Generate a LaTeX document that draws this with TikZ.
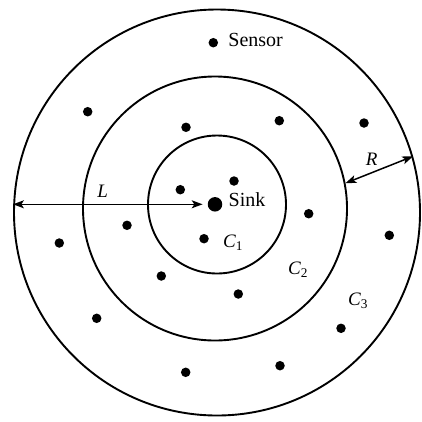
\documentclass[tikz,border=0pt]{standalone}
\usepackage{fontspec}
\setmainfont{Liberation Serif}
\usetikzlibrary{arrows.meta, positioning}
\tikzset{
  ring/.style={draw, circle, line width=1.9pt, inner sep=0pt},
  sensordot/.style={fill, circle, inner sep=0pt, minimum size=9.5pt},
  sinkdot/.style={fill, circle, inner sep=0pt, minimum size=14.5pt},
  tag/.style={font=\fontsize{20}{22}\selectfont, inner sep=1pt},
  symtag/.style={font=\fontsize{19}{21}\selectfont\itshape, inner sep=1pt},
  dimarr/.style={{Stealth[length=3.8mm, width=2.8mm, inset=0.9mm]}-{Stealth[length=3.8mm, width=2.8mm, inset=0.9mm]}, line width=1.5pt},
}

\begin{document}
\begin{tikzpicture}[x=1pt, y=-1pt, node distance=5pt]
  \useasboundingbox (0,0) rectangle (422,421);
  % the three rings
  \node[ring, minimum size=406pt] (ring3) at (217,212.5) {};
  \node[ring, minimum size=264pt] (ring2) at (215,208.5) {};
  \node[ring, minimum size=138pt] (ring1) at (217,204.5) {};
  % sink and sensors
  \node[sinkdot] (sink) at (215,204.3) {};
  \node[tag, right=5pt of sink, yshift=5pt] (sinklbl) {Sink};
  \node[sensordot] (sensor) at (213.3,42.7) {};
  \node[tag, right=9pt of sensor, yshift=2.5pt] (sensorlbl) {Sensor};
  \foreach \x/\y [count=\i] in {87.7/111.7, 186/127.3, 279.3/120.7, 364/123,
      234/181, 180.3/189.7, 308.7/213.7, 127/225.3, 204/238.7, 59.3/243,
      389.3/235.3, 161.3/276, 238.3/294, 96.7/318.3, 341/328.3,
      185.7/372.3, 280/365.7}
    \node[sensordot] (s\i) at (\x,\y) {};
  % labels
  \node[symtag] (llbl) at (102.7,191) {L};
  \node[symtag] (rlbl) at (371.7,159) {R};
  \node[symtag] (c1lbl) at (233,243) {C\textsubscript{\upshape 1}};
  \node[symtag] (c2lbl) at (298,270) {C\textsubscript{\upshape 2}};
  \node[symtag] (c3lbl) at (358,301) {C\textsubscript{\upshape 3}};
  % dimensions
  \draw[dimarr, shorten >=5pt] (sink -| ring3.west) -- (sink.west);
  \draw[dimarr] (ring2.11.5) -- (ring3.16.3);
\end{tikzpicture}
\end{document}
